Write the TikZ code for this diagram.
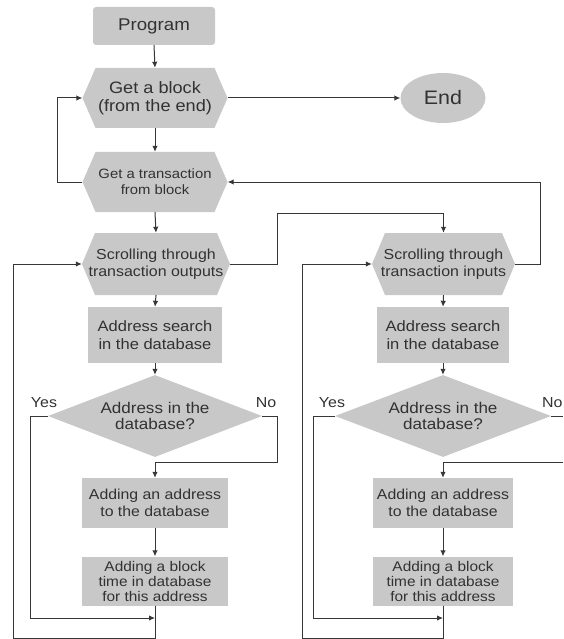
\documentclass[tikz,border=0pt]{standalone}
\usepackage{fontspec}
\setmainfont{Liberation Sans}[FakeStretch=1.1]
\usetikzlibrary{shapes.geometric,arrows.meta}
\definecolor{boxgray}{RGB}{200,200,200}
\definecolor{ink}{RGB}{50,50,50}
\definecolor{wirecol}{RGB}{55,55,55}
\newcommand\hexfill[4]{\fill[boxgray] ({#1-#3},#2) -- ({#1-#3+13},{#2-#4}) -- ({#1+#3-13},{#2-#4}) -- ({#1+#3},#2) -- ({#1+#3-13},{#2+#4}) -- ({#1-#3+13},{#2+#4}) -- cycle;}
\newcommand\fs[2]{\fontsize{#1}{#2}\selectfont}
\tikzset{
  base/.style={text=ink, align=center, inner sep=0pt},
  rbox/.style={base, fill=boxgray},
  wire/.style={draw=wirecol, line width=1pt},
  arr/.style={wire, -{Latex[length=6pt,width=5.5pt]}},
  lbl/.style={base, font=\fs{14.5}{16}}
}
\begin{document}
\begin{tikzpicture}[x=1pt,y=-1pt]
\useasboundingbox (0,0) rectangle (563,639);
% top part
\node[rbox, rounded corners=3pt, minimum width=122pt, minimum height=38pt, font=\fs{17}{20}] (prog) at (154,26) {Program};
\hexfill{155}{98}{72.5}{30}
\node[base, minimum width=145pt, minimum height=60pt, font=\fs{16.5}{18}] (gb) at (155,98) {Get a block\\(from the end)};
\node[base, ellipse, fill=boxgray, minimum width=85pt, minimum height=50pt, font=\fs{19.5}{22}] (end) at (443,98) {End};
\hexfill{155}{182}{72.5}{30}
\node[base, minimum width=145pt, minimum height=60pt, font=\fs{13.5}{16}] (gt) at (155,182) {Get a transaction\\from block};
% left column
\hexfill{156}{264}{74}{31}
\node[base, minimum width=148pt, minimum height=62pt, font=\fs{14.5}{17}] (so) at (156,264) {Scrolling through\\transaction outputs};
\node[rbox, minimum width=134pt, minimum height=56pt, font=\fs{15}{18}] (asL) at (155,335) {Address search\\in the database};
\node[base, diamond, fill=boxgray, aspect=2.6, minimum width=214pt, minimum height=82pt, font=\fs{15.5}{16}] (dL) at (155,416) {Address in the\\database?};
\node[rbox, minimum width=146pt, minimum height=50pt, font=\fs{14.4}{17}] (aaL) at (155,503) {Adding an address\\to the database};
\node[rbox, minimum width=146pt, minimum height=49pt, font=\fs{14}{15}] (abL) at (155,581) {Adding a block\\time in database\\for this address};
% right column
\hexfill{443.5}{264}{71.5}{31}
\node[base, minimum width=143pt, minimum height=62pt, font=\fs{14.5}{17}] (si) at (443.5,264) {Scrolling through\\transaction inputs};
\node[rbox, minimum width=132pt, minimum height=56pt, font=\fs{15}{18}] (asR) at (443,335) {Address search\\in the database};
\node[base, diamond, fill=boxgray, aspect=2.6, minimum width=216pt, minimum height=82pt, font=\fs{15.5}{16}] (dR) at (443,416) {Address in the\\database?};
\node[rbox, minimum width=140pt, minimum height=50pt, font=\fs{14.4}{17}] (aaR) at (443,503) {Adding an address\\to the database};
\node[rbox, minimum width=140pt, minimum height=49pt, font=\fs{14}{15}] (abR) at (443,581) {Adding a block\\time in database\\for this address};
% labels
\node[lbl] (yesL) at (44,403) {Yes};
\node[lbl] (noL) at (266,403) {No};
\node[lbl] (yesR) at (332,403) {Yes};
\node[lbl, anchor=west] (noR) at (542,403) {No};
% coordinates
\coordinate (noLc) at (277,462);
\coordinate (yesLc) at (30,618);
\coordinate (loopL) at (13,638);
\coordinate (crossA) at (277,213);
\coordinate (backB) at (540,264);
\coordinate (edgeA) at (563,416);
\coordinate (noRc) at (563,462);
\coordinate (yesRc) at (313,618);
\coordinate (loopR) at (302,638);
% connectors
\draw[arr] (prog.south) -- (gb.north);
\draw[arr] (gb.east) -- (end.west);
\draw[arr] (gb.south) -- (gt.north);
\draw[arr] (gt.west) -- ++(-25,0) |- (gb.west);
\draw[arr] (gt.south) -- (so.north);
\draw[arr] (so.south) -- (asL.north);
\draw[arr] (asL.south) -- (dL.north);
\draw[arr] (dL.east) -| (noLc) -| (aaL.north);
\draw[arr] (aaL.south) -- (abL.north);
\draw[arr] (dL.west) -| (yesLc) -- (abL.south |- yesLc);
\draw[arr] (abL.south) |- (loopL) |- (so.west);
\draw[arr] (so.east) -| (crossA) -| (si.north);
\draw[arr] (si.east) -- (backB) |- (gt.east);
\draw[arr] (si.south) -- (asR.north);
\draw[arr] (asR.south) -- (dR.north);
\draw[wire] (dR.east) -- (edgeA);
\draw[arr] (noRc) -| (aaR.north);
\draw[arr] (aaR.south) -- (abR.north);
\draw[arr] (dR.west) -| (yesRc) -- (abR.south |- yesRc);
\draw[arr] (abR.south) |- (loopR) |- (si.west);
\end{tikzpicture}
\end{document}
